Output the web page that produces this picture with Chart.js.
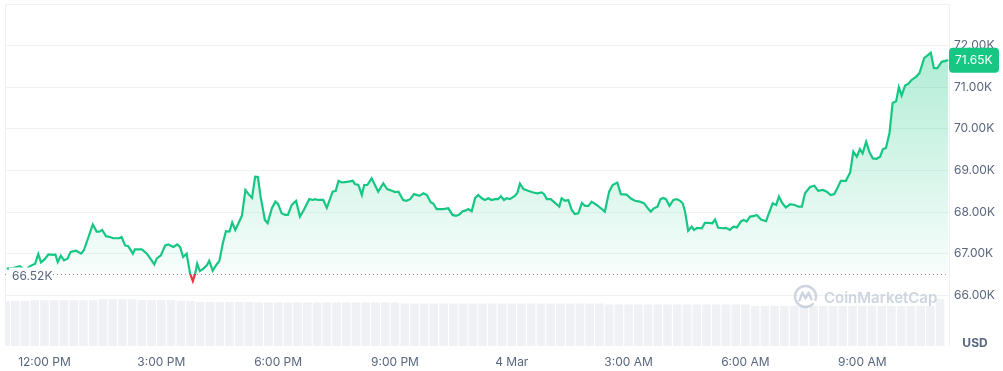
<!DOCTYPE html>
<html lang="en">
<head>
<meta charset="UTF-8">
<title>Bitcoin price, 24h</title>
<script src="https://cdn.jsdelivr.net/npm/chart.js"></script>
<style>
  html, body { margin: 0; padding: 0; background: #fff; }
  #wrap { width: 1003px; height: 371px; }
</style>
</head>
<body>
<div id="wrap"><canvas id="priceChart"></canvas></div>
<script>
// time in hours since 00:00 on 3 Mar (24 = midnight, 4 Mar)
const times = [
  11.03, 11.17, 11.37, 11.50, 11.63, 11.76, 11.84, 11.91, 12.00, 12.10, 12.23, 12.28, 12.34, 12.42, 12.50, 12.59,
  12.67, 12.81, 12.87, 12.94, 13.01, 13.13, 13.24, 13.34, 13.41, 13.48, 13.58, 13.68, 13.77, 13.92, 13.98, 14.07,
  14.15, 14.27, 14.32, 14.41, 14.50, 14.63, 14.75, 14.82, 14.88, 14.99, 15.10, 15.18, 15.31, 15.41, 15.48, 15.56,
  15.65, 15.74, 15.81, 15.87, 15.92, 15.99, 16.08, 16.17, 16.23, 16.32, 16.42, 16.49, 16.58, 16.66, 16.75, 16.82,
  16.90, 16.99, 17.07, 17.16, 17.24, 17.33, 17.41, 17.48, 17.55, 17.66, 17.73, 17.84, 17.93, 18.00, 18.09, 18.18,
  18.25, 18.35, 18.46, 18.56, 18.66, 18.80, 18.89, 18.95, 19.03, 19.16, 19.25, 19.40, 19.48, 19.55, 19.63, 19.72,
  19.80, 19.92, 19.97, 20.06, 20.15, 20.21, 20.29, 20.40, 20.57, 20.70, 20.80, 20.92, 21.00, 21.09, 21.21, 21.30,
  21.39, 21.49, 21.63, 21.73, 21.82, 21.92, 21.98, 22.07, 22.24, 22.37, 22.48, 22.57, 22.65, 22.74, 22.82, 22.88,
  22.97, 23.06, 23.14, 23.23, 23.31, 23.40, 23.48, 23.57, 23.65, 23.72, 23.80, 23.87, 23.95, 24.08, 24.14, 24.21,
  24.30, 24.42, 24.55, 24.66, 24.77, 24.83, 24.90, 25.00, 25.11, 25.22, 25.28, 25.37, 25.45, 25.54, 25.62, 25.71,
  25.80, 25.88, 25.97, 26.05, 26.18, 26.29, 26.39, 26.50, 26.59, 26.71, 26.80, 26.95, 27.05, 27.16, 27.29, 27.40,
  27.51, 27.57, 27.65, 27.74, 27.82, 27.89, 27.96, 28.05, 28.15, 28.24, 28.32, 28.39, 28.45, 28.53, 28.62, 28.68,
  28.76, 28.88, 28.96, 29.07, 29.15, 29.22, 29.30, 29.42, 29.50, 29.60, 29.69, 29.78, 29.89, 29.96, 30.03, 30.12,
  30.20, 30.29, 30.40, 30.53, 30.59, 30.70, 30.79, 30.86, 30.95, 31.04, 31.15, 31.27, 31.36, 31.45, 31.53, 31.66,
  31.77, 31.87, 31.99, 32.09, 32.19, 32.28, 32.36, 32.45, 32.58, 32.69, 32.77, 32.86, 32.94, 33.01, 33.10, 33.18,
  33.27, 33.37, 33.46, 33.53, 33.61, 33.70, 33.78, 33.87, 33.94, 34.01, 34.10, 34.18, 34.27, 34.38, 34.47, 34.59,
  34.76, 34.84, 34.93, 35.04, 35.21
];
const prices = [
  66640, 66650, 66700, 66600, 66700, 66760, 66990, 66790, 66860, 66980, 66970, 66980, 66800, 66950, 66840, 66880,
  67040, 67070, 67040, 67000, 67080, 67400, 67700, 67530, 67530, 67570, 67420, 67400, 67370, 67370, 67400, 67200,
  67180, 67000, 67100, 67100, 67100, 67000, 66840, 66740, 66880, 66960, 67200, 67220, 67160, 67220, 67160, 66920,
  67000, 66520, 66340, 66520, 66760, 66580, 66640, 66720, 66830, 66590, 66740, 66820, 67250, 67540, 67530, 67750,
  67570, 67750, 67910, 68530, 68430, 68340, 68850, 68840, 68370, 67810, 67730, 68090, 68250, 68190, 67970, 67930,
  67930, 68170, 68270, 67890, 68050, 68310, 68290, 68310, 68290, 68290, 68100, 68490, 68510, 68750, 68710, 68720,
  68730, 68750, 68670, 68650, 68410, 68650, 68650, 68810, 68490, 68690, 68550, 68510, 68480, 68490, 68290, 68270,
  68310, 68430, 68390, 68450, 68410, 68230, 68210, 68070, 68070, 68090, 67930, 67910, 67940, 68020, 68040, 68070,
  68020, 68340, 68410, 68330, 68290, 68330, 68290, 68310, 68310, 68380, 68290, 68330, 68310, 68390, 68450, 68680,
  68550, 68510, 68470, 68450, 68470, 68430, 68310, 68310, 68220, 68130, 68330, 68270, 68290, 68050, 67950, 67970,
  68220, 68150, 68150, 68250, 68170, 68090, 68010, 68490, 68650, 68710, 68430, 68420, 68330, 68270, 68250, 68210,
  68070, 68010, 68090, 68130, 68310, 68340, 68310, 68150, 68290, 68310, 68270, 68210, 68010, 67550, 67650, 67570,
  67620, 67610, 67740, 67740, 67730, 67820, 67620, 67610, 67620, 67570, 67650, 67630, 67780, 67810, 67770, 67890,
  67900, 67930, 67820, 67780, 67940, 68210, 68170, 68370, 68210, 68110, 68190, 68170, 68130, 68130, 68450, 68600,
  68630, 68510, 68530, 68490, 68410, 68430, 68570, 68750, 68750, 68950, 69450, 69330, 69510, 69410, 69690, 69450,
  69290, 69280, 69330, 69510, 69540, 69900, 70620, 70660, 71000, 70800, 71040, 71080, 71180, 71250, 71340, 71700,
  71830, 71460, 71460, 71610, 71650
];
// 24h volume, one bar every 15 minutes from 11:00 (relative units)
const volStart = 11.0;
const volStep = 0.25;
const volumes = [
  39.5, 39.5, 39.5, 40.1, 40.1, 40.1, 40.1, 40.1, 40.1, 40.1, 41.0, 41.0, 41.0, 41.0, 40.3, 40.3,
  40.3, 40.3, 39.5, 39.5, 38.6, 38.6, 38.6, 38.6, 38.6, 38.6, 38.2, 38.2, 38.2, 38.2, 38.2, 38.2,
  38.2, 38.2, 38.2, 38.2, 38.2, 38.2, 38.2, 38.2, 38.2, 37.3, 37.3, 37.3, 37.3, 37.3, 37.3, 37.3,
  37.3, 37.3, 37.3, 37.3, 37.3, 37.3, 37.3, 37.3, 37.3, 37.3, 37.3, 37.3, 37.3, 37.3, 36.4, 36.4,
  36.4, 36.4, 36.4, 36.4, 36.4, 36.4, 36.4, 36.4, 36.4, 36.4, 36.4, 36.4, 36.4, 35.2, 35.2, 35.2,
  35.2, 35.2, 35.2, 35.2, 35.2, 35.2, 35.2, 35.2, 35.2, 35.2, 35.2, 35.2, 35.2, 35.2, 35.2, 35.2,
  41.2
];
const xTicks = [12, 15, 18, 21, 24, 27, 30, 33];
const xTickLabels = ['12:00 PM', '3:00 PM', '6:00 PM', '9:00 PM', '4 Mar', '3:00 AM', '6:00 AM', '9:00 AM'];
const yTicks = [66000, 67000, 68000, 69000, 70000, 71000, 72000, 73000];
const openPrice = 66520;
const lastPrice = 71650;

const green = '#16c784';
const red = '#ea3943';
const textGray = '#58667e';
const gridGray = '#eff2f5';
const fontFamily = 'Inter, "Noto Sans", sans-serif';

const fmtK = v => (v / 1000).toFixed(2) + 'K';

function lineColor(context) {
  const chart = context.chart;
  const area = chart.chartArea;
  if (!area) return green;
  const y = chart.scales.y.getPixelForValue(openPrice);
  const s = Math.min(Math.max((y - area.top) / (area.bottom - area.top), 0), 1);
  const g = chart.ctx.createLinearGradient(0, area.top, 0, area.bottom);
  g.addColorStop(0, green);
  g.addColorStop(s, green);
  g.addColorStop(s, red);
  g.addColorStop(1, red);
  return g;
}

function fillColor(context) {
  const chart = context.chart;
  const area = chart.chartArea;
  if (!area) return 'rgba(22,199,132,0.1)';
  const top = chart.scales.y.getPixelForValue(72000);
  const base = chart.scales.y.getPixelForValue(openPrice);
  const g = chart.ctx.createLinearGradient(0, top, 0, base);
  g.addColorStop(0, 'rgba(22,199,132,0.34)');
  g.addColorStop(1, 'rgba(22,199,132,0.03)');
  return g;
}

const noPad = ax => {
  ax.paddingTop = 0;
  ax.paddingBottom = 0;
  ax.paddingLeft = 0;
  ax.paddingRight = 0;
};

const overlay = {
  id: 'overlay',
  beforeDatasetsDraw(chart) {
    const { ctx, chartArea: a } = chart;
    ctx.save();
    ctx.strokeStyle = '#eceff3';
    ctx.lineWidth = 1;
    ctx.beginPath();
    ctx.moveTo(a.left + 0.5, a.top);
    ctx.lineTo(a.left + 0.5, a.bottom);
    ctx.stroke();
    ctx.restore();
  },
  afterDatasetsDraw(chart) {
    const { ctx, chartArea: a, scales } = chart;
    const y = Math.round(scales.y.getPixelForValue(openPrice)) + 0.5;
    ctx.save();
    ctx.strokeStyle = '#8f98a8';
    ctx.lineWidth = 1;
    ctx.setLineDash([1, 3]);
    ctx.beginPath();
    ctx.moveTo(a.left, y);
    ctx.lineTo(a.right, y);
    ctx.stroke();
    ctx.setLineDash([]);
    ctx.fillStyle = '#fff';
    ctx.fillRect(a.left + 4, y - 7, 44, 15);
    ctx.fillStyle = textGray;
    ctx.font = '12px ' + fontFamily;
    ctx.textBaseline = 'middle';
    ctx.textAlign = 'left';
    ctx.fillText(fmtK(openPrice), a.left + 7, y + 2);

    // watermark
    const cx = 805.5, cy = 296.5;
    ctx.strokeStyle = 'rgba(190,199,212,0.75)';
    ctx.fillStyle = 'rgba(190,199,212,0.75)';
    ctx.lineWidth = 2.4;
    ctx.lineJoin = 'round';
    ctx.lineCap = 'round';
    ctx.beginPath();
    ctx.arc(cx, cy, 10.5, 0.25 * Math.PI, 2.1 * Math.PI);
    ctx.stroke();
    ctx.beginPath();
    ctx.moveTo(cx - 6, cy + 4);
    ctx.lineTo(cx - 3, cy - 4);
    ctx.lineTo(cx, cy + 2);
    ctx.lineTo(cx + 3, cy - 4);
    ctx.lineTo(cx + 6, cy + 3);
    ctx.stroke();
    ctx.font = '600 15px ' + fontFamily;
    ctx.textBaseline = 'middle';
    ctx.textAlign = 'left';
    ctx.fillText('CoinMarketCap', 824, 298);
    ctx.restore();
  },
  afterDraw(chart) {
    const { ctx, chartArea: a, scales } = chart;
    const y = scales.y.getPixelForValue(lastPrice);
    ctx.save();
    ctx.fillStyle = green;
    ctx.beginPath();
    ctx.roundRect(a.right, y - 12.5, 50, 25, 4);
    ctx.fill();
    ctx.fillStyle = '#fff';
    ctx.font = '12px ' + fontFamily;
    ctx.textBaseline = 'middle';
    ctx.textAlign = 'left';
    ctx.fillText(fmtK(lastPrice), a.right + 6, y + 0.5);
    ctx.fillStyle = textGray;
    ctx.font = 'bold 12px ' + fontFamily;
    ctx.textAlign = 'center';
    ctx.fillText('USD', a.right + 26, a.bottom - 3);
    ctx.restore();
  }
};

new Chart(document.getElementById('priceChart'), {
  data: {
    datasets: [
      {
        type: 'line',
        data: times.map((t, i) => ({ x: t, y: prices[i] })),
        borderColor: lineColor,
        backgroundColor: fillColor,
        borderWidth: 2.2,
        pointRadius: 0,
        tension: 0,
        fill: { value: openPrice, below: 'rgba(234,57,67,0.08)' },
        yAxisID: 'y',
        order: 0
      },
      {
        type: 'bar',
        data: volumes.map((v, i) => ({ x: volStart + i * volStep, y: v })),
        backgroundColor: '#eff1f4',
        categoryPercentage: 1,
        barPercentage: 0.88,
        yAxisID: 'y2',
        order: 1
      }
    ]
  },
  options: {
    responsive: true,
    maintainAspectRatio: false,
    animation: false,
    layout: { padding: { left: 5, top: 4, right: 0, bottom: 0 } },
    plugins: { legend: { display: false }, tooltip: { enabled: false } },
    scales: {
      x: {
        type: 'linear',
        offset: false,
        min: 10.986,
        max: 35.228,
        grid: { display: false, offset: false, drawTicks: false, tickLength: 0 },
        border: { display: false },
        afterBuildTicks: ax => { ax.ticks = xTicks.map(v => ({ value: v })); },
        afterFit: ax => { ax.height = 25; noPad(ax); },
        ticks: {
          autoSkip: false,
          maxRotation: 0,
          padding: 9,
          color: textGray,
          font: { size: 12, family: fontFamily },
          callback: v => xTickLabels[xTicks.indexOf(v)]
        }
      },
      y: {
        position: 'right',
        min: 64780,
        max: 73000,
        afterBuildTicks: ax => { ax.ticks = yTicks.map(v => ({ value: v })); },
        afterFit: ax => { ax.width = 54; noPad(ax); },
        grid: { color: gridGray, drawTicks: false },
        border: { display: true, color: gridGray },
        ticks: {
          padding: 5,
          color: textGray,
          font: { size: 12, family: fontFamily },
          callback: v => (v === 73000 ? '' : fmtK(v))
        }
      },
      y2: {
        display: false,
        min: 0,
        max: 300
      }
    }
  },
  plugins: [overlay]
});
</script>
</body>
</html>
